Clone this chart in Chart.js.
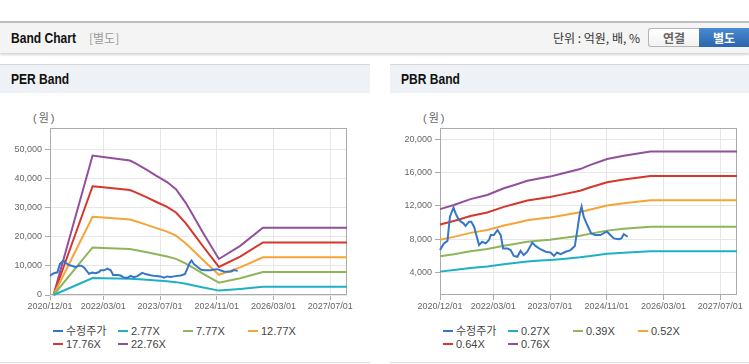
<!DOCTYPE html>
<html>
<head>
<meta charset="utf-8">
<script src="https://cdn.jsdelivr.net/npm/chart.js@4.4.1/dist/chart.umd.min.js"></script>
<style>
html,body{margin:0;padding:0;background:#fff;width:749px;height:364px;overflow:hidden;font-family:"Liberation Sans",Arial,sans-serif;}
#topbar{position:absolute;left:0;top:21px;width:749px;height:30px;border-top:2px solid #bdbdbd;background:#f4f4f4;box-shadow:0 2px 2px rgba(0,0,0,0.16);}
.ttl{position:absolute;left:11px;top:0;line-height:30px;font-weight:bold;font-size:14px;font-family:"Liberation Sans",Arial,sans-serif;color:#111;display:inline-block;transform:scaleX(0.86);transform-origin:0 50%;white-space:nowrap;}
#topbar .sub{position:absolute;left:89px;top:0;line-height:30px;font-size:12px;font-family:"Noto Sans CJK KR",sans-serif;color:#9a9a9a;}
#topbar .unit{position:absolute;left:553px;top:0;line-height:30px;font-size:12px;font-family:"Noto Sans CJK KR",sans-serif;color:#333;}
.btn{position:absolute;top:5px;height:17px;line-height:17px;text-align:center;font-size:12px;font-weight:bold;font-family:"Noto Sans CJK KR",sans-serif;}
#b1{left:648px;width:50px;border:1px solid #b5b5b5;border-right:none;border-radius:3px 0 0 3px;background:linear-gradient(#fff,#f2f2f2);color:#666;}
#b2{left:699px;width:50px;height:19px;line-height:19px;background:linear-gradient(#4a8ad0,#2b66ad);color:#fff;}
.phead{position:absolute;top:64px;height:28px;border-top:1px solid #d6d6d6;background:#eef1f6;}
.phead .ttl{line-height:29px;}
.panel{position:absolute;top:93px;height:269px;border-bottom:1px solid #dcdcdc;}
.unitlbl{position:absolute;left:33px;top:17px;font-size:11px;font-family:"Liberation Sans","Noto Sans CJK KR",sans-serif;color:#666;line-height:14px;white-space:nowrap;}
.unitlbl span{font-family:"Noto Sans CJK KR",sans-serif;margin:0 2px;}
canvas{position:absolute;left:0;top:7px;}
.legend .li{position:absolute;height:14px;line-height:14px;font-size:11px;color:#444;white-space:nowrap;font-family:"Liberation Sans","Noto Sans CJK KR",sans-serif;}
.legend .mk{position:absolute;left:0;top:6px;width:10px;height:2px;}
.legend .tx{position:absolute;left:13px;top:0;}
</style>
</head>
<body>
<div id="topbar">
  <span class="ttl">Band Chart</span>
  <span class="sub">[별도]</span>
  <span class="unit">단위 : 억원, 배, %</span>
  <div class="btn" id="b1">연결</div>
  <div class="btn" id="b2">별도</div>
</div>
<div class="phead" style="left:0;width:370px;"><span class="ttl">PER Band</span></div>
<div class="phead" style="left:390px;width:359px;"><span class="ttl">PBR Band</span></div>
<div class="panel" id="perPanel" style="left:0;width:370px;">
  <div class="unitlbl">(<span>원</span>)</div>
  <canvas id="perChart" width="370" height="220"></canvas>
  <div class="legend" id="perLegend"></div>
</div>
<div class="panel" id="pbrPanel" style="left:390px;width:359px;">
  <div class="unitlbl">(<span>원</span>)</div>
  <canvas id="pbrChart" width="359" height="220"></canvas>
  <div class="legend" id="pbrLegend"></div>
</div>
<script>
// ---- data (x = months since 2020/12/01) ----
const tickMonths = [0, 15, 31, 47, 63, 79];
const tickLabels = ['2020/12/01', '2022/03/01', '2023/07/01', '2024/11/01', '2026/03/01', '2027/07/01'];

const priceLabel = '수정주가';
const priceMonths = [0, 1.1, 2.1, 2.8, 3.8, 4.4, 5.3, 6.6, 7.2, 8.2, 8.8, 9.6, 11.0, 11.9, 12.9, 13.8, 14.3, 15.2, 16.2, 17.1, 17.8, 19.0, 19.9, 20.8, 21.8, 22.7, 23.6, 24.6, 26.0, 26.9, 28.3, 29.8, 31.2, 32.1, 33.0, 34.0, 35.4, 36.8, 38.0, 38.7, 39.4, 39.9, 40.5, 41.5, 42.6, 43.8, 45.2, 46.4, 47.1, 48.0, 49.0, 50.4, 51.1, 51.8, 52.9];
const priceValues = [6700, 7500, 7800, 10700, 11800, 11100, 10300, 9900, 9600, 10100, 10100, 9500, 7300, 7700, 7500, 7900, 8500, 8500, 9100, 8500, 6900, 6900, 6700, 6000, 5900, 6600, 6100, 6500, 7600, 7200, 6800, 6500, 6400, 6000, 6400, 6200, 6500, 6700, 7200, 9100, 11100, 11900, 10700, 9700, 8700, 8500, 8500, 8800, 8900, 8500, 8100, 8000, 8100, 8600, 8300];

const perBandLabels = ['2.77X', '7.77X', '12.77X', '17.76X', '22.76X'];
const perMonths = [1, 12, 15, 22.5, 24, 27.3, 30, 33, 35.5, 38.3, 40.5, 43.2, 47.6, 53.6, 60, 83.7];
const per277  = [0, 5840, 5780, 5630, 5530, 5240, 5000, 4730, 4430, 3850, 3290, 2590, 1510, 2060, 2820, 2820];
const per777  = [0, 16390, 16220, 15800, 15500, 14700, 14010, 13280, 12430, 10800, 9220, 7270, 4240, 5770, 7920, 7920];
const per1277 = [0, 26930, 26650, 25970, 25480, 24160, 23030, 21820, 20430, 17750, 15150, 11950, 6960, 9490, 13010, 13010];
const per1776 = [0, 37460, 37070, 36120, 35430, 33600, 32030, 30350, 28420, 24690, 21060, 16620, 9680, 13200, 18100, 18100];
const per2276 = [0, 48000, 47500, 46290, 45410, 43060, 41050, 38900, 36420, 31640, 26990, 21300, 12400, 16910, 23190, 23190];
const perYTicks = [0, 10000, 20000, 30000, 40000, 50000];

const pbrBandLabels = ['0.27X', '0.39X', '0.52X', '0.64X', '0.76X'];
const pbrMonths = [0, 3.9, 8.6, 13.3, 18, 21, 24.6, 28.3, 31, 33.9, 39.5, 42.4, 47.1, 51.8, 59.3, 83.7];
const pbr027 = [4120, 4300, 4550, 4730, 5010, 5150, 5330, 5440, 5510, 5610, 5830, 6000, 6250, 6390, 6570, 6570];
const pbr039 = [5950, 6210, 6570, 6830, 7230, 7440, 7700, 7850, 7950, 8110, 8420, 8670, 9030, 9240, 9490, 9490];
const pbr052 = [7940, 8280, 8760, 9100, 9650, 9920, 10260, 10470, 10600, 10810, 11220, 11560, 12040, 12310, 12660, 12660];
const pbr064 = [9770, 10190, 10780, 11200, 11870, 12210, 12630, 12880, 13050, 13310, 13810, 14230, 14820, 15160, 15580, 15580];
const pbr076 = [11600, 12100, 12800, 13300, 14100, 14500, 15000, 15300, 15500, 15800, 16400, 16900, 17600, 18000, 18500, 18500];
const pbrYTicks = [4000, 8000, 12000, 16000, 20000];

// ---- styling ----
const colors = ['#3576c7', '#1fb0c5', '#8fb55b', '#f4a53a', '#d6362c', '#92509c'];

function pts(xs, ys) { return xs.map((x, i) => ({ x: x, y: ys[i] })); }

const frame = {
  id: 'frame',
  beforeDatasetsDraw(chart) {
    const { ctx, chartArea: a } = chart;
    ctx.save();
    ctx.strokeStyle = '#ababab';
    ctx.lineWidth = 1;
    const l = Math.round(a.left) + 0.5, t = Math.round(a.top) + 0.5;
    const r = Math.round(a.right) - 0.5, b = Math.round(a.bottom) - 0.5;
    ctx.strokeRect(l, t, r - l, b - t);
    ctx.restore();
  }
};

function makeChart(id, legendId, bandMonths, bandSeries, bandLabels, yMin, yMax, yTicks, padRight) {
  const datasets = [{ label: priceLabel, data: pts(priceMonths, priceValues) }]
    .concat(bandSeries.map((s, i) => ({ label: bandLabels[i], data: pts(bandMonths, s) })))
    .map((d, i) => Object.assign(d, {
      borderColor: colors[i], backgroundColor: colors[i], borderWidth: 2,
      pointRadius: 0, tension: 0, fill: false, clip: false
    }));
  const tickFont = { family: 'Liberation Sans', size: 9 };
  const chart = new Chart(document.getElementById(id), {
    type: 'line',
    data: { datasets },
    plugins: [frame],
    options: {
      responsive: false, animation: false, devicePixelRatio: 1, events: [],
      layout: { padding: { top: 28, right: padRight, left: 0, bottom: 0 } },
      plugins: { legend: { display: false }, tooltip: { enabled: false } },
      scales: {
        x: {
          type: 'linear', min: 0, max: 83.7,
          afterBuildTicks: s => { s.ticks = tickMonths.map(v => ({ value: v })); },
          afterFit: s => { s.height = 25; },
          border: { display: false },
          grid: { color: '#e7e7e7', tickColor: '#ababab', tickLength: 5 },
          ticks: { autoSkip: false, maxRotation: 0, padding: 1, color: '#666', font: tickFont,
                   callback: (v, i) => tickLabels[i] }
        },
        y: {
          min: yMin, max: yMax,
          afterBuildTicks: s => { s.ticks = yTicks.map(v => ({ value: v })); },
          afterFit: s => { s.width = 50; },
          border: { display: false },
          grid: { color: '#e7e7e7', tickColor: '#ababab', tickLength: 5 },
          ticks: { padding: 3, color: '#666', font: tickFont,
                   callback: v => Number(v).toLocaleString('en-US') }
        }
      }
    }
  });
  const lg = document.getElementById(legendId);
  chart.data.datasets.forEach((d, i) => {
    const it = document.createElement('div');
    it.className = 'li';
    it.style.left = (53 + (i % 4) * 65) + 'px';
    it.style.top = (231 + Math.floor(i / 4) * 13) + 'px';
    it.innerHTML = '<span class="mk" style="background:' + d.borderColor + '"></span><span class="tx"></span>';
    it.querySelector('.tx').textContent = d.label;
    lg.appendChild(it);
  });
  return chart;
}

makeChart('perChart', 'perLegend', perMonths, [per277, per777, per1277, per1776, per2276], perBandLabels, 0, 57500, perYTicks, 23);
makeChart('pbrChart', 'pbrLegend', pbrMonths, [pbr027, pbr039, pbr052, pbr064, pbr076], pbrBandLabels, 1320, 21320, pbrYTicks, 12);
</script>
</body>
</html>
